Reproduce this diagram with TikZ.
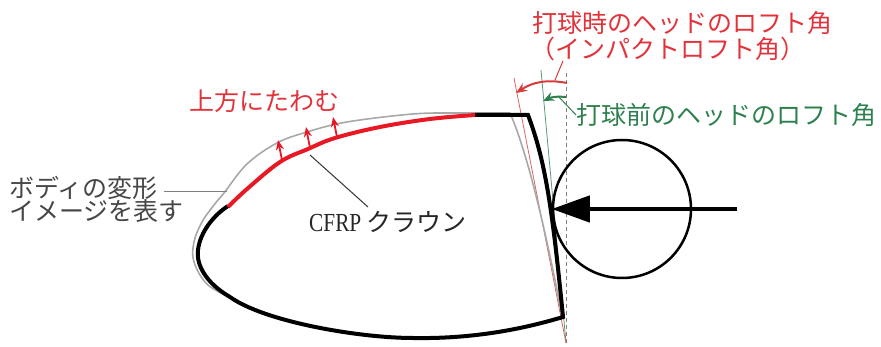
\documentclass[tikz,border=0pt]{standalone}
\usepackage{fontspec}
\setmainfont{Liberation Serif}
\newfontfamily\jpfont{Noto Sans CJK JP}
\newfontfamily\cfrpfont[FakeStretch=0.82]{Liberation Serif}
\usetikzlibrary{arrows.meta}
\definecolor{crownred}{RGB}{232,24,36}
\definecolor{loftred}{RGB}{214,60,60}
\definecolor{textred}{RGB}{226,50,58}
\definecolor{loftgreen}{RGB}{46,128,78}
\definecolor{bodygray}{RGB}{168,168,168}
\definecolor{labelgray}{RGB}{70,70,70}
\begin{document}
\begin{tikzpicture}[x=1pt,y=-1pt,
  txt/.style={inner sep=0pt,anchor=west,font=\jpfont\fontsize{25}{28}\selectfont},
  bodyline/.style={line width=4pt,black,line join=miter},
  crownline/.style={line width=4pt,crownred},
  deformline/.style={line width=1.6pt,bodygray,line join=round},
  bendarrow/.style={line width=1.8pt,crownred,-{Stealth[length=10pt,width=8pt]}},
  refline/.style={line width=0.8pt},
  loftarc/.style={line width=2pt,-{Stealth[length=11pt,width=9pt]}},
  leader/.style={line width=1pt}]
\useasboundingbox (0,0) rectangle (881,347);

% reference lines of the face: vertical, loft before impact, loft at impact
\coordinate (pivot) at (566,343);
\coordinate (vtop) at (566,70);
\coordinate (gtop) at (541,70);
\coordinate (rtop) at (514,78);
\draw[refline,gray,dash pattern=on 4pt off 3pt] (pivot) -- (vtop);
\draw[refline,loftgreen!80] (pivot) -- (gtop);
\draw[refline,loftred!80] (pivot) -- (rtop);

% deformed body outline
\draw[deformline] plot[smooth,tension=0.6] coordinates {(236,300) (208,285) (194,262) (194,242) (202,222) (214,205) (224,193) (247,164) (277,143) (307,132) (347,122) (413,114) (460,113) (510,113)};
\draw[deformline] (510,113) .. controls (522,140) and (540,200) .. (562,316);

% head outline before impact
\draw[bodyline] (475,115) -- (528,115) .. controls (545,160) and (552,205) .. (563,317)
  .. controls (520,330) and (470,339) .. (413,338)
  .. controls (360,338) and (265,322) .. (230,297)
  .. controls (206,283) and (196,265) .. (198,250)
  .. controls (200,232) and (214,215) .. (228,206);

% CFRP crown
\draw[crownline] plot[smooth,tension=0.6] coordinates {(228,207) (247,189) (280,162) (308,149) (335,138) (380,127) (430,119) (475,115)};

% upward bending of the crown
\coordinate (b1) at (282,160);
\coordinate (b2) at (310,148);
\coordinate (b3) at (337,137);
\draw[bendarrow] (b1) -- (278,140);
\draw[bendarrow] (b2) -- (306,127);
\draw[bendarrow] (b3) -- (333,117);

% ball and impact force
\node[circle,draw,line width=2.5pt,minimum size=138pt,inner sep=0pt] (ball) at (622,209) {};
\coordinate (force) at (737,209);
\draw[line width=4.5pt,-{Triangle[length=38pt,width=26pt]}] (force) -- (ball.west);

% loft angle arcs
\coordinate (redstart) at (567,83);
\coordinate (redend) at (516,93);
\coordinate (greenstart) at (566,97);
\coordinate (greenend) at (543,101);
\draw[loftarc,loftred] (redstart) to[bend right=22] (redend);
\draw[loftarc,loftgreen] (greenstart) to[bend right=15] (greenend);

% labels
\node[txt,textred] (impact1) at (532,23) {打球時のヘッドのロフト角};
\node[txt,textred] (impact2) at (530,49) {（インパクトロフト角）};
\node[txt,loftgreen] (before) at (576,115) {打球前のヘッドのロフト角};
\node[txt,textred] (bend) at (189,101) {上方にたわむ};
\node[txt,black!85] (crown) at (309,222) {{\cfrpfont\fontsize{26}{28}\selectfont CFRP} クラウン};
\node[txt,labelgray] (deform1) at (9,188) {ボディの変形};
\node[txt,labelgray] (deform2) at (9,211) {イメージを表す};

% leaders
\coordinate (crownpt) at (310,155);
\draw[leader,black!80] (crownpt) -- (368,207);
\coordinate (deformpt) at (227,192);
\draw[leader,gray] (deform1.east |- deformpt) ++(6,0) -- (deformpt);
\coordinate (redarcpt) at (555,80);
\draw[leader,loftred] (redarcpt) -- (563,61);
\coordinate (greenarcpt) at (558,96);
\draw[leader,loftgreen] (greenarcpt) -- (before.west);
\end{tikzpicture}
\end{document}
